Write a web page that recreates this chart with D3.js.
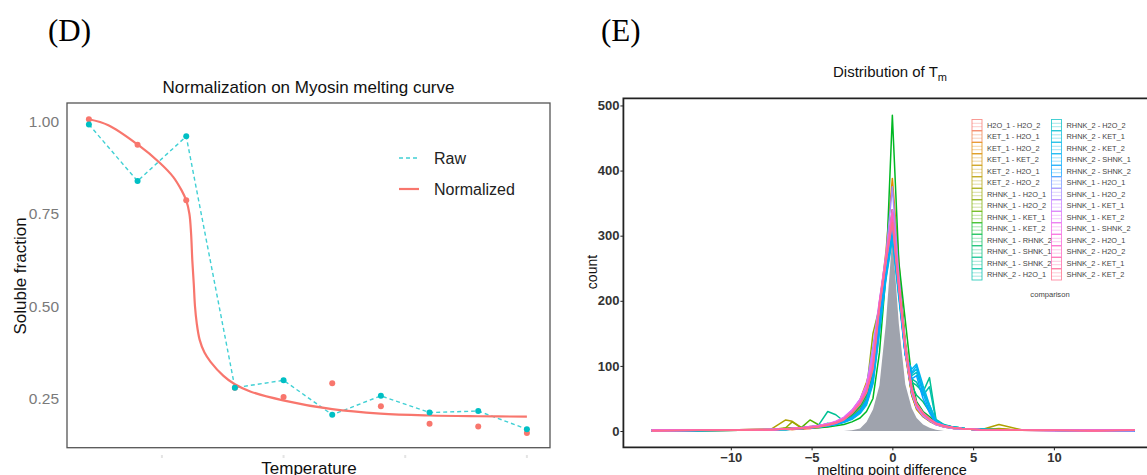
<!DOCTYPE html>
<html>
<head>
<meta charset="utf-8">
<script src="https://d3js.org/d3.v7.min.js"></script>
<style>
  body { margin: 0; background: #fff; }
  text { font-family: "Liberation Sans", Arial, sans-serif; }
</style>
</head>
<body>
<svg id="vis"></svg>
<script>
  // ---- panel D data ----
  var temps = [37, 39, 41, 43, 45, 47, 49, 51, 53, 55]
  var rawValues = [0.991, 0.838, 0.959, 0.280, 0.300, 0.207, 0.258, 0.213, 0.217, 0.168]
  var normValues = [1.005, 0.936, 0.786, 0.280, 0.255, 0.292, 0.230, 0.183, 0.175, 0.158]
  var fitTemps = [37.0, 37.8, 39.0, 39.92, 40.47, 40.81, 41.0, 41.13, 41.2, 41.25, 41.31, 41.36, 41.43,
                  41.55, 41.75, 42.0, 42.53, 42.98, 43.63, 44.98, 47.0, 48.98, 50.99, 52.98, 55.0]
  var fitValues = [1.005, 0.989, 0.937, 0.887, 0.849, 0.813, 0.786, 0.750, 0.696, 0.624, 0.560, 0.500, 0.455,
                   0.410, 0.375, 0.350, 0.312, 0.290, 0.270, 0.246, 0.222, 0.210, 0.205, 0.203, 0.202]
  var yTicksD = [0.25, 0.50, 0.75, 1.00]
  var xTicksD = [40, 45, 50, 55]

  // ---- panel E data ----
  var diffBins = [-14.9, -12, -9.5, -7.5, -6.6, -6.2, -5.6, -5.1, -4.6, -4.0, -3.5, -3.0, -2.5, -2.0,
                  -1.6, -1.2, -0.8, -0.4, 0, 0.4, 0.8, 1.2, 1.5, 1.9, 2.3, 2.7, 3.2, 3.8, 4.5, 5.5,
                  6.6, 8, 10, 12.5, 15]
  var comparisons = ["H2O_1 - H2O_2", "KET_1 - H2O_1", "KET_1 - H2O_2", "KET_1 - KET_2", "KET_2 - H2O_1",
    "KET_2 - H2O_2", "RHNK_1 - H2O_1", "RHNK_1 - H2O_2", "RHNK_1 - KET_1", "RHNK_1 - KET_2",
    "RHNK_1 - RHNK_2", "RHNK_1 - SHNK_1", "RHNK_1 - SHNK_2", "RHNK_2 - H2O_1", "RHNK_2 - H2O_2",
    "RHNK_2 - KET_1", "RHNK_2 - KET_2", "RHNK_2 - SHNK_1", "RHNK_2 - SHNK_2", "SHNK_1 - H2O_1",
    "SHNK_1 - H2O_2", "SHNK_1 - KET_1", "SHNK_1 - KET_2", "SHNK_1 - SHNK_2", "SHNK_2 - H2O_1",
    "SHNK_2 - H2O_2", "SHNK_2 - KET_1", "SHNK_2 - KET_2"]
  var counts = [
    [0,1,1,2,2,3,3,4,5,7,10,15,23,36,50,85,175,250,300,215,118,55,35,22,15,10,6,4,3,2,1,1,1,0,1],
    [1,0,1,2,3,2,4,4,6,8,11,16,25,38,55,92,185,260,320,230,125,58,36,24,16,11,7,5,3,2,2,1,0,1,0],
    [0,1,1,2,3,4,3,5,6,8,12,17,26,40,62,100,190,275,388,260,132,60,38,25,17,11,7,4,3,2,3,1,1,0,1],
    [1,1,2,3,4,5,5,6,7,9,13,19,30,48,75,110,195,265,340,250,128,55,33,22,15,10,6,4,3,3,2,2,1,1,0],
    [0,1,1,2,3,3,4,5,6,8,11,16,24,37,54,88,178,252,310,220,120,56,35,23,16,11,7,5,3,2,4,1,1,0,1],
    [1,1,2,3,17,15,5,6,7,9,12,17,25,39,56,92,182,258,315,225,122,57,36,24,16,11,7,5,3,2,10,2,1,1,0],
    [0,1,1,2,5,14,4,6,7,10,13,18,27,42,62,150,190,262,325,230,126,60,38,25,17,12,8,5,3,2,3,1,1,0,1],
    [1,0,1,2,4,5,5,7,8,10,14,19,28,44,64,108,185,258,330,235,132,62,40,27,18,12,8,5,3,2,2,1,1,1,0],
    [0,1,1,2,4,4,6,17,10,9,12,16,22,30,45,82,170,250,340,240,138,65,42,28,19,13,8,5,3,2,2,1,1,0,1],
    [0,1,1,2,3,4,4,5,5,6,8,10,14,20,30,50,120,240,485,260,170,80,45,30,22,14,8,5,3,2,2,1,1,0,1],
    [1,1,2,2,3,4,5,6,7,9,12,17,25,38,56,90,180,255,320,228,124,58,37,25,17,12,8,5,3,2,2,1,1,1,0],
    [0,1,1,2,3,4,5,6,8,10,13,19,28,41,58,94,182,258,318,232,128,70,55,45,30,14,9,6,4,2,2,1,1,0,1],
    [1,1,1,2,3,4,5,6,8,30,25,15,22,33,50,85,165,245,300,210,118,75,70,60,82,18,10,6,4,3,2,1,1,1,0],
    [0,1,1,2,3,3,4,5,7,12,10,15,20,30,45,80,165,245,310,220,122,80,75,55,68,16,9,6,4,2,2,1,1,0,1],
    [1,1,1,2,2,3,4,5,6,9,11,14,20,30,44,78,160,240,305,215,120,85,90,60,40,15,9,5,3,2,2,1,1,1,0],
    [0,1,1,2,3,3,4,5,6,8,10,14,19,28,42,75,155,235,300,210,118,88,95,65,35,14,8,5,3,2,2,1,1,0,1],
    [1,1,1,2,2,3,4,5,6,8,10,13,18,27,40,72,150,232,295,205,116,95,103,70,40,16,9,6,4,3,2,1,1,1,0],
    [0,0,1,2,3,3,4,5,6,8,10,14,20,30,45,80,165,245,310,215,118,90,100,58,30,13,8,5,3,2,2,1,1,0,1],
    [1,1,1,2,3,3,4,5,6,8,11,15,21,31,47,82,168,248,312,218,120,80,85,50,28,12,8,5,3,2,2,1,1,1,0],
    [0,1,1,2,3,4,5,6,7,10,13,19,30,46,67,112,190,258,320,220,122,58,36,23,16,10,6,4,3,2,1,1,1,0,1],
    [1,1,2,2,3,4,5,6,8,10,14,20,31,48,70,130,200,270,375,240,127,60,37,24,16,10,7,4,3,2,2,1,1,1,0],
    [0,1,1,2,3,4,5,6,8,11,14,21,32,48,69,120,195,262,335,228,124,60,37,24,17,10,7,4,3,2,2,1,0,1,1],
    [1,1,2,3,3,4,5,7,8,11,15,21,32,49,71,115,198,265,330,225,127,62,38,25,17,11,7,5,3,2,2,1,1,0,1],
    [1,1,2,2,3,4,5,6,8,11,14,20,31,47,68,108,192,262,340,232,130,64,40,26,18,11,7,5,3,2,2,1,1,1,1],
    [1,1,2,2,3,3,4,5,6,9,12,18,28,42,60,100,195,265,330,225,132,66,42,27,19,12,8,5,3,2,2,1,1,1,1],
    [0,1,1,2,3,4,5,6,7,10,13,19,29,44,62,102,198,268,335,228,134,67,42,28,19,12,8,5,3,2,2,1,1,0,2],
    [1,1,2,2,3,4,4,5,7,10,13,18,28,43,61,98,192,260,325,222,130,64,41,27,18,12,8,5,3,2,2,1,1,1,1],
    [0,1,1,2,3,3,4,5,6,9,12,17,27,41,59,95,188,258,320,220,128,63,40,26,18,11,7,5,3,2,2,1,1,0,1]
  ]
  var greyCounts = [0,0,0,0,0,0,0,0,0,0,0,0,1,4,14,33,70,165,300,165,72,35,20,10,5,2,0,0,0,0,0,0,0,0,0]
  var yTicksE = [0, 100, 200, 300, 400, 500]
  var xTicksE = [-10, -5, 0, 5, 10]

  var W = 1147, H = 475
  var svg = d3.select('#vis').attr('width', W).attr('height', H)
  svg.append('rect').attr('width', W).attr('height', H).attr('fill', '#fff')

  // R-style hcl (polar Luv) -> hex, for ggplot hue palette
  function hclR(h, c, l) {
    var hr = h * Math.PI / 180
    var u = c * Math.cos(hr), v = c * Math.sin(hr)
    var Xn = 0.95047, Yn = 1, Zn = 1.08883
    var den = Xn + 15 * Yn + 3 * Zn
    var un = 4 * Xn / den, vn = 9 * Yn / den
    var Y = Yn * Math.pow((l + 16) / 116, 3)
    var up = u / (13 * l) + un, vp = v / (13 * l) + vn
    var X = 9 * Y * up / (4 * vp)
    var Z = Y * (12 - 3 * up - 20 * vp) / (4 * vp)
    var rgb = [
      3.240479 * X - 1.537150 * Y - 0.498535 * Z,
      -0.969256 * X + 1.875992 * Y + 0.041556 * Z,
      0.055648 * X - 0.204043 * Y + 1.057311 * Z
    ].map(function (t) {
      t = t <= 0.0031308 ? 12.92 * t : 1.055 * Math.pow(t, 1 / 2.4) - 0.055
      return Math.round(255 * Math.max(0, Math.min(1, t)))
    })
    return d3.rgb(rgb[0], rgb[1], rgb[2]).formatHex()
  }
  var palette = comparisons.map(function (d, i) { return hclR(15 + i * 360 / 28, 100, 65) })

  // panel labels
  svg.append('text').attr('x', 48).attr('y', 41).text('(D)')
    .style('font-family', '"Liberation Serif", "Times New Roman", serif').style('font-size', '31px')
  svg.append('text').attr('x', 601).attr('y', 41).text('(E)')
    .style('font-family', '"Liberation Serif", "Times New Roman", serif').style('font-size', '31px')

  // =============== Panel D ===============
  var red = '#F8766D', cyan = '#00BFC4'
  var xD = d3.scaleLinear().domain([36.1, 55.95]).range([67, 550])
  var yD = d3.scaleLinear().domain([0.118, 1.049]).range([447.7, 103])

  svg.append('text').attr('x', 308.5).attr('y', 93).attr('text-anchor', 'middle')
    .style('font-size', '17px').attr('fill', '#111').text('Normalization on Myosin melting curve')

  svg.append('g').selectAll('text').data(yTicksD).enter().append('text')
    .attr('x', 59).attr('y', function (d) { return yD(d) + 5.5 })
    .attr('text-anchor', 'end').style('font-size', '15.5px').attr('fill', '#7a7a7a')
    .text(function (d) { return d.toFixed(2) })

  svg.append('g').selectAll('line').data(xTicksD).enter().append('line')
    .attr('x1', function (d) { return xD(d) }).attr('x2', function (d) { return xD(d) })
    .attr('y1', 455).attr('y2', 458).attr('stroke', '#e4e4e4').attr('stroke-width', 2)

  svg.append('text').attr('transform', 'translate(26,276) rotate(-90)').attr('text-anchor', 'middle')
    .style('font-size', '17px').attr('fill', '#111').text('Soluble fraction')
  svg.append('text').attr('x', 309).attr('y', 474).attr('text-anchor', 'middle')
    .style('font-size', '17px').attr('fill', '#111').text('Temperature')

  var rawPts = temps.map(function (t, i) { return [t, rawValues[i]] })
  var normPts = temps.map(function (t, i) { return [t, normValues[i]] })
  var fitPts = fitTemps.map(function (t, i) { return [t, fitValues[i]] })

  var lineD = d3.line().x(function (d) { return xD(d[0]) }).y(function (d) { return yD(d[1]) })
  var fitLine = d3.line().x(function (d) { return xD(d[0]) }).y(function (d) { return yD(d[1]) })
    .curve(d3.curveCatmullRom.alpha(0.5))

  svg.append('path').datum(rawPts).attr('d', lineD).attr('fill', 'none')
    .attr('stroke', '#40d0d4').attr('stroke-width', 1.4).attr('stroke-dasharray', '4,3')
  svg.append('path').datum(fitPts).attr('d', fitLine).attr('fill', 'none')
    .attr('stroke', red).attr('stroke-width', 2.2)

  svg.append('g').selectAll('circle').data(normPts).enter().append('circle')
    .attr('cx', function (d) { return xD(d[0]) }).attr('cy', function (d) { return yD(d[1]) })
    .attr('r', 3).attr('fill', red)
  svg.append('g').selectAll('circle').data(rawPts).enter().append('circle')
    .attr('cx', function (d) { return xD(d[0]) }).attr('cy', function (d) { return yD(d[1]) })
    .attr('r', 3).attr('fill', cyan)

  svg.append('rect').attr('x', 67).attr('y', 103).attr('width', 483).attr('height', 344.7)
    .attr('fill', 'none').attr('stroke', '#555').attr('stroke-width', 1.3)

  // legend D
  svg.append('line').attr('x1', 399).attr('x2', 419).attr('y1', 158).attr('y2', 158)
    .attr('stroke', '#40d0d4').attr('stroke-width', 1.4).attr('stroke-dasharray', '4,3')
  svg.append('line').attr('x1', 399).attr('x2', 419).attr('y1', 189).attr('y2', 189)
    .attr('stroke', red).attr('stroke-width', 2.2)
  svg.append('text').attr('x', 434).attr('y', 164).style('font-size', '16px').attr('fill', '#222').text('Raw')
  svg.append('text').attr('x', 434).attr('y', 195).style('font-size', '16px').attr('fill', '#222').text('Normalized')

  // =============== Panel E ===============
  var xE = d3.scaleLinear().domain([-16.65, 15.95]).range([623.4, 1150])
  var yE = d3.scaleLinear().domain([-25, 511]).range([447.3, 98.3])

  var title = svg.append('text').attr('x', 890).attr('y', 77).attr('text-anchor', 'middle')
    .style('font-size', '15px').attr('fill', '#111')
  title.append('tspan').text('Distribution of T')
  title.append('tspan').attr('dy', 4).style('font-size', '11px').text('m')

  var area = d3.area().x(function (d, i) { return xE(diffBins[i]) })
    .y0(yE(0)).y1(function (d) { return yE(d) })
  svg.append('path').datum(greyCounts).attr('d', area).attr('fill', '#9fa3ad')

  var lineE = d3.line().x(function (d, i) { return xE(diffBins[i]) }).y(function (d) { return yE(d) })
  svg.append('g').selectAll('path').data(counts).enter().append('path')
    .attr('d', lineE).attr('fill', 'none')
    .attr('stroke', function (d, i) { return palette[i] }).attr('stroke-width', 1.5)
    .attr('stroke-linejoin', 'round')

  // axes E
  var axisY = d3.axisLeft(yE).tickValues(yTicksE).tickSize(3).tickPadding(1)
  var gy = svg.append('g').attr('transform', 'translate(623.4,0)').call(axisY)
  var axisX = d3.axisBottom(xE).tickValues(xTicksE).tickSize(3).tickPadding(2)
  var gx = svg.append('g').attr('transform', 'translate(0,447.3)').call(axisX)
  ;[gx, gy].forEach(function (g) {
    g.select('.domain').remove()
    g.selectAll('.tick line').attr('stroke', '#222')
    g.selectAll('.tick text').attr('fill', '#333').style('font-size', '13px')
      .style('font-family', '"Liberation Sans", Arial, sans-serif').style('font-weight', 'bold')
  })
  svg.append('path').attr('d', 'M1150,98.3H623.4V447.3H1150').attr('fill', 'none')
    .attr('stroke', '#222').attr('stroke-width', 1.8)

  svg.append('text').attr('transform', 'translate(597,272) rotate(-90)').attr('text-anchor', 'middle')
    .style('font-size', '14px').attr('fill', '#111').text('count')
  svg.append('text').attr('x', 892).attr('y', 474.5).attr('text-anchor', 'middle')
    .style('font-size', '14.5px').attr('fill', '#111').text('melting point difference')

  // legend E
  var rowH = 11.5
  var leg = svg.append('g').selectAll('g').data(comparisons).enter().append('g')
    .attr('transform', function (d, i) {
      var col = Math.floor(i / 14), row = i % 14
      return 'translate(' + (972 + col * 79.5) + ',' + (119.5 + row * rowH) + ')'
    })
  leg.append('rect').attr('width', 10).attr('height', rowH - 0.5).attr('fill', '#fff')
    .attr('stroke', function (d, i) { return palette[i] }).attr('stroke-width', 0.9).attr('opacity', 0.8)
  leg.append('line').attr('x1', 0).attr('x2', 10).attr('y1', 3.8).attr('y2', 3.8)
    .attr('stroke', function (d, i) { return palette[i] }).attr('stroke-width', 0.6).attr('opacity', 0.6)
  leg.append('line').attr('x1', 0).attr('x2', 10).attr('y1', 7.2).attr('y2', 7.2)
    .attr('stroke', function (d, i) { return palette[i] }).attr('stroke-width', 0.6).attr('opacity', 0.6)
  leg.append('text').attr('x', 15).attr('y', 8.3).style('font-size', '7.4px').attr('fill', '#444')
    .text(function (d) { return d })
  svg.append('text').attr('x', 1050).attr('y', 297).attr('text-anchor', 'middle')
    .style('font-size', '7.6px').attr('fill', '#444').text('comparison')
</script>
</body>
</html>
